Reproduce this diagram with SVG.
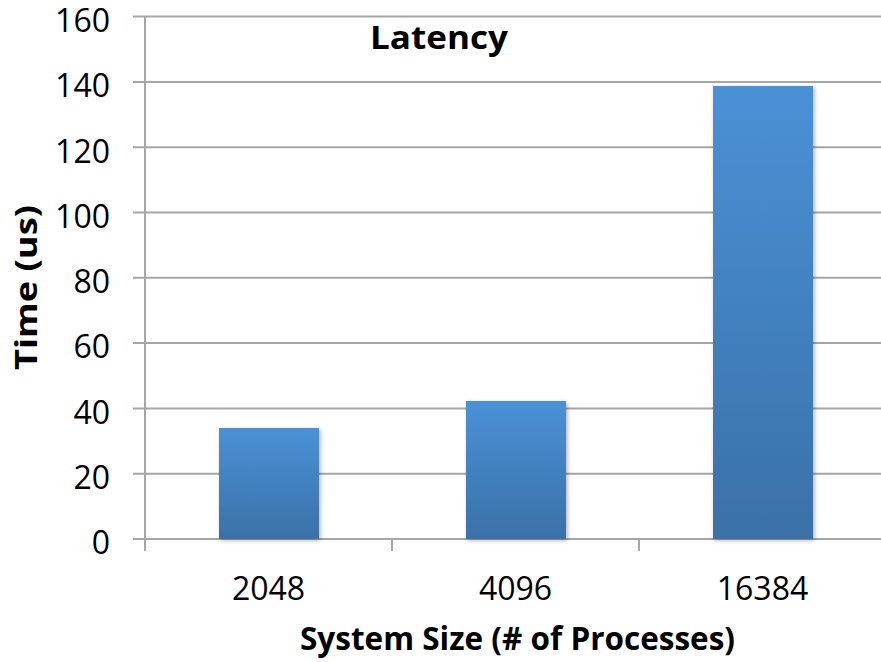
<svg xmlns="http://www.w3.org/2000/svg" width="881" height="662" viewBox="0 0 881 662">
  <style>
    .grid { stroke: #a6a6a6; stroke-width: 2; fill: none; }
    .tick { font-family: "Open Sans", "Liberation Sans", sans-serif; font-size: 32px; fill: #000; }
    .ylab { text-anchor: end; }
    .xlab { text-anchor: middle; }
    .title { font-family: "Open Sans", "Liberation Sans", sans-serif; font-weight: bold; fill: #000; }
    .bar { fill: url(#barFill); filter: url(#barShadow); }
  </style>
  <defs>
    <linearGradient id="barFill" x1="0" y1="0" x2="0" y2="1">
      <stop offset="0" stop-color="#4a91d7"/>
      <stop offset="1" stop-color="#3a71a7"/>
    </linearGradient>
    <filter id="barShadow" x="-10%" y="-10%" width="125%" height="125%">
      <feDropShadow dx="1.5" dy="1.5" stdDeviation="2" flood-color="#000" flood-opacity="0.3"/>
    </filter>
  </defs>

  <rect width="881" height="662" fill="#fff"/>

  <!-- horizontal gridlines, 20 us apart -->
  <g id="gridlines">
    <line class="grid" x1="133" y1="16.6" x2="881" y2="16.6"/>
    <line class="grid" x1="133" y1="81.9" x2="881" y2="81.9"/>
    <line class="grid" x1="133" y1="147.2" x2="881" y2="147.2"/>
    <line class="grid" x1="133" y1="212.5" x2="881" y2="212.5"/>
    <line class="grid" x1="133" y1="277.8" x2="881" y2="277.8"/>
    <line class="grid" x1="133" y1="343.1" x2="881" y2="343.1"/>
    <line class="grid" x1="133" y1="408.4" x2="881" y2="408.4"/>
    <line class="grid" x1="133" y1="473.7" x2="881" y2="473.7"/>
  </g>

  <!-- axes -->
  <g id="axes">
    <line class="grid" x1="145" y1="16" x2="145" y2="551"/>
    <line class="grid" x1="133" y1="539" x2="881" y2="539"/>
    <line class="grid" x1="392" y1="539" x2="392" y2="551"/>
    <line class="grid" x1="639" y1="539" x2="639" y2="551"/>
  </g>

  <!-- bars -->
  <g id="bar-2048"><rect class="bar" x="219" y="428" width="100" height="111"/></g>
  <g id="bar-4096"><rect class="bar" x="466" y="401" width="100" height="138"/></g>
  <g id="bar-16384"><rect class="bar" x="713" y="86" width="100" height="453"/></g>

  <!-- y axis labels -->
  <g id="y-labels" class="tick ylab">
    <text x="110" y="32">160</text>
    <text x="110" y="97">140</text>
    <text x="110" y="163">120</text>
    <text x="110" y="228">100</text>
    <text x="110" y="293">80</text>
    <text x="110" y="358">60</text>
    <text x="110" y="424">40</text>
    <text x="110" y="489">20</text>
    <text x="110" y="554">0</text>
  </g>

  <!-- x axis labels -->
  <g id="x-labels" class="tick xlab">
    <text x="268.5" y="600">2048</text>
    <text x="515.5" y="600">4096</text>
    <text x="762.5" y="600">16384</text>
  </g>

  <!-- titles -->
  <g id="chart-title"><text class="title" x="370" y="49" font-size="33" textLength="138" lengthAdjust="spacingAndGlyphs">Latency</text></g>
  <g id="x-title"><text class="title" x="300" y="650" font-size="33" textLength="435" lengthAdjust="spacingAndGlyphs">System Size (# of Processes)</text></g>
  <g id="y-title"><text class="title" transform="translate(37 370) rotate(-90)" x="0" y="0" font-size="31" textLength="165" lengthAdjust="spacingAndGlyphs">Time (us)</text></g>
</svg>
